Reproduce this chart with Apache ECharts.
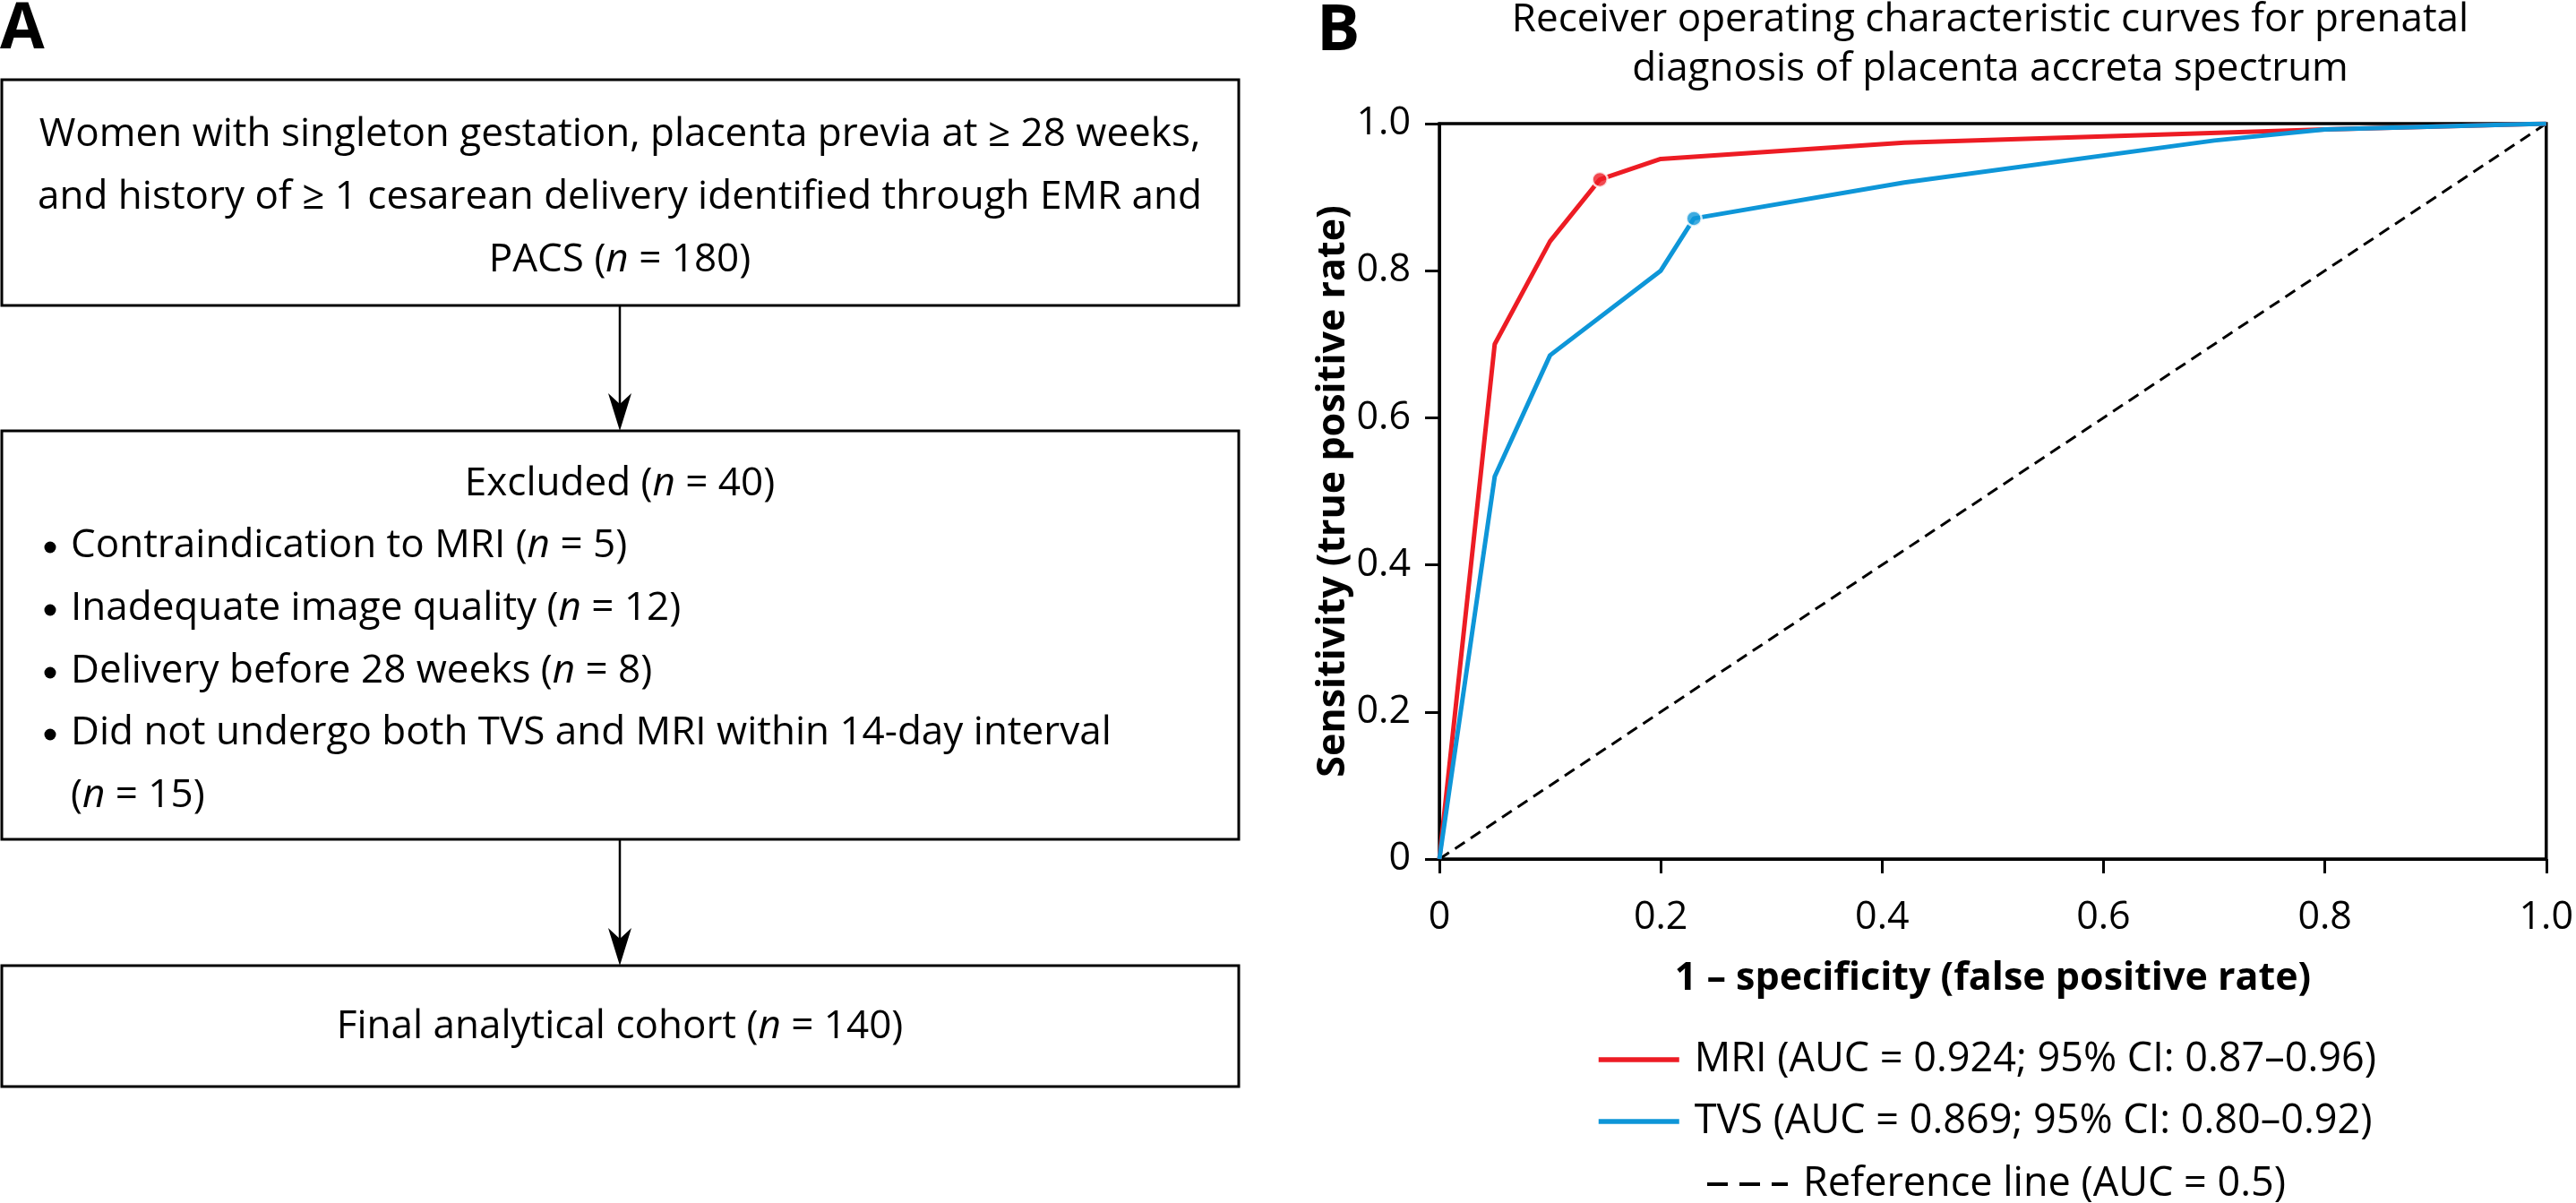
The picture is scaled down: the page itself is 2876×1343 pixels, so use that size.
<!DOCTYPE html>
<html>
<head>
<meta charset="utf-8">
<script src="https://cdn.jsdelivr.net/npm/echarts@6/dist/echarts.min.js"></script>
<style>
html,body{margin:0;padding:0;background:#fff;}
#chart{width:2876px;height:1343px;}
</style>
</head>
<body>
<div id="chart"></div>
<script>
// ---- Data ----
const fprMRI = [0, 0.05, 0.10, 0.145, 0.20, 0.42, 0.80, 1.0];
const tprMRI = [0, 0.70, 0.84, 0.924, 0.952, 0.974, 0.992, 1.0];
const fprTVS = [0, 0.05, 0.10, 0.20, 0.23, 0.42, 0.70, 0.80, 1.0];
const tprTVS = [0, 0.52, 0.685, 0.80, 0.871, 0.92, 0.977, 0.992, 1.0];
const cutoffMRI = [0.145, 0.924];
const cutoffTVS = [0.23, 0.871];
const refX = [0, 1];
const refY = [0, 1];
const tickLabels = ['0', '0.2', '0.4', '0.6', '0.8', '1.0'];
const seriesNames = [
  'MRI (AUC = 0.924; 95% CI: 0.87\u20130.96)',
  'TVS (AUC = 0.869; 95% CI: 0.80\u20130.92)',
  'Reference line (AUC = 0.5)'
];
const titleLines = [
  'Receiver operating characteristic curves for prenatal',
  'diagnosis of placenta accreta spectrum'
];
const xAxisTitle = '1 \u2013 specificity (false positive rate)';
const yAxisTitle = 'Sensitivity (true positive rate)';
const box1Lines = [
  'Women with singleton gestation, placenta previa at \u2265 28 weeks,',
  'and history of \u2265 1 cesarean delivery identified through EMR and',
  'PACS ({i|n} = 180)'
];
const box2Header = 'Excluded ({i|n} = 40)';
const box2Bullets = [
  'Contraindication to MRI ({i|n} = 5)',
  'Inadequate image quality ({i|n} = 12)',
  'Delivery before 28 weeks ({i|n} = 8)',
  'Did not undergo both TVS and MRI within 14-day interval'
];
const box2Continuation = '({i|n} = 15)';
const box3Text = 'Final analytical cohort ({i|n} = 140)';
const panelLabels = ['A', 'B'];

// ---- Styles ----
const FONT = '"Open Sans", "Noto Sans", sans-serif';
const FS = 44;
const RED = '#ED1C24';
const BLUE = '#0E96D8';

function txt(text, x, y, align, size) {
  const fs = size || FS;
  return {
    type: 'text', x: x, y: y, silent: true,
    style: { text: text, fontSize: fs, fontFamily: FONT, fill: '#000',
             textAlign: align || 'center', textVerticalAlign: 'middle',
             rich: { i: { fontStyle: 'italic', fontSize: fs, fontFamily: FONT, fill: '#000' } } }
  };
}
function box(y0, y1) {
  return { type: 'rect', silent: true, shape: { x: 2, y: y0, width: 1381, height: y1 - y0 },
           style: { fill: 'none', stroke: '#000', lineWidth: 3 } };
}
function arrow(y0, y1) {
  const cx = 692;
  return [
    { type: 'line', silent: true, shape: { x1: cx, y1: y0, x2: cx, y2: y1 - 30 },
      style: { stroke: '#000', lineWidth: 2.5 } },
    { type: 'polygon', silent: true,
      shape: { points: [[cx, y1], [cx - 13, y1 - 42], [cx, y1 - 30], [cx + 13, y1 - 42]] },
      style: { fill: '#000' } }
  ];
}

const graphics = [];
// panel labels
graphics.push({ type: 'text', x: 0, y: 33, silent: true,
  style: { text: panelLabels[0], fontSize: 72, fontWeight: 'bold', fontFamily: FONT, fill: '#000',
           textAlign: 'left', textVerticalAlign: 'middle' } });
graphics.push({ type: 'text', x: 1470, y: 35, silent: true,
  style: { text: panelLabels[1], fontSize: 72, fontWeight: 'bold', fontFamily: FONT, fill: '#000',
           textAlign: 'left', textVerticalAlign: 'middle' } });
// chart title
graphics.push(txt(titleLines[0], 2222, 22, 'center', 44));
graphics.push(txt(titleLines[1], 2222, 77, 'center', 44));
// flowchart
graphics.push(box(89, 341));
[150, 220, 290].forEach((y, k) => graphics.push(txt(box1Lines[k], 692, y, 'center')));
arrow(341, 481).forEach(g => graphics.push(g));
graphics.push(box(481, 937));
graphics.push(txt(box2Header, 692, 540, 'center'));
[609, 679, 749, 818].forEach((y, k) => {
  graphics.push({ type: 'circle', silent: true, shape: { cx: 56, cy: y + 2, r: 6.5 }, style: { fill: '#000' } });
  graphics.push(txt(box2Bullets[k], 79, y, 'left'));
});
graphics.push(txt(box2Continuation, 79, 888, 'left'));
arrow(937, 1078).forEach(g => graphics.push(g));
graphics.push(box(1078, 1213));
graphics.push(txt(box3Text, 692, 1146, 'center'));

const chart = echarts.init(document.getElementById('chart'));

const axisCommon = {
  type: 'value', min: 0, max: 1, interval: 0.2,
  axisLine: { show: true, lineStyle: { color: '#000', width: 3 } },
  axisTick: { show: true, inside: false, length: 16, lineStyle: { color: '#000', width: 3 } },
  splitLine: { show: false },
  axisLabel: { color: '#000', fontSize: 43, fontFamily: FONT,
               formatter: v => tickLabels[Math.round(v / 0.2)] },
  nameLocation: 'middle',
  nameTextStyle: { color: '#000', fontSize: 43, fontWeight: 'bold', fontFamily: FONT }
};

function legendAt(name, left, top, lineStyle) {
  return {
    data: [name], left: left, top: top, orient: 'vertical', padding: 0,
    itemWidth: 90, itemHeight: 20, selectedMode: false,
    itemStyle: { opacity: 0, color: 'transparent', borderWidth: 0 },
    lineStyle: lineStyle,
    textStyle: { color: '#000', fontSize: 45, fontFamily: FONT, lineHeight: 54, padding: [0, 0, 0, 12] }
  };
}

chart.setOption({
  animation: false,
  backgroundColor: '#fff',
  grid: { left: 1607, right: 27, top: 138, bottom: 384, show: true,
          borderColor: '#000', borderWidth: 3.5, backgroundColor: 'transparent' },
  xAxis: Object.assign({}, axisCommon, {
    name: xAxisTitle, nameGap: 112,
    axisLabel: Object.assign({}, axisCommon.axisLabel, { margin: 44 })
  }),
  yAxis: Object.assign({}, axisCommon, {
    name: yAxisTitle, nameGap: 96,
    axisLabel: Object.assign({}, axisCommon.axisLabel, { margin: 32 })
  }),
  legend: [
    legendAt(seriesNames[0], 1782, 1156, { color: RED, width: 5.5, type: 'solid' }),
    legendAt(seriesNames[1], 1782, 1225, { color: BLUE, width: 5.5, type: 'solid' }),
    legendAt(seriesNames[2], 1904, 1295, { color: '#000', width: 4, type: [23, 13] })
  ],
  graphic: graphics,
  series: [
    {
      name: seriesNames[2], type: 'line', symbol: 'none', z: 1,
      lineStyle: { color: '#000', width: 3, type: [13, 8] }, itemStyle: { color: '#000' },
      data: refX.map((x, i) => [x, refY[i]])
    },
    {
      name: seriesNames[0], type: 'line', symbol: 'none', z: 2,
      lineStyle: { color: RED, width: 5 }, itemStyle: { color: RED },
      data: fprMRI.map((x, i) => [x, tprMRI[i]])
    },
    {
      name: seriesNames[1], type: 'line', symbol: 'none', z: 3,
      lineStyle: { color: BLUE, width: 5 }, itemStyle: { color: BLUE },
      data: fprTVS.map((x, i) => [x, tprTVS[i]])
    },
    {
      name: 'MRI cutoff', type: 'scatter', symbol: 'circle', symbolSize: 17, z: 4,
      itemStyle: { color: RED, borderColor: '#fff', borderWidth: 2.5 },
      data: [cutoffMRI]
    },
    {
      name: 'TVS cutoff', type: 'scatter', symbol: 'circle', symbolSize: 17, z: 4,
      itemStyle: { color: BLUE, borderColor: '#fff', borderWidth: 2.5 },
      data: [cutoffTVS]
    }
  ]
});
</script>
</body>
</html>
